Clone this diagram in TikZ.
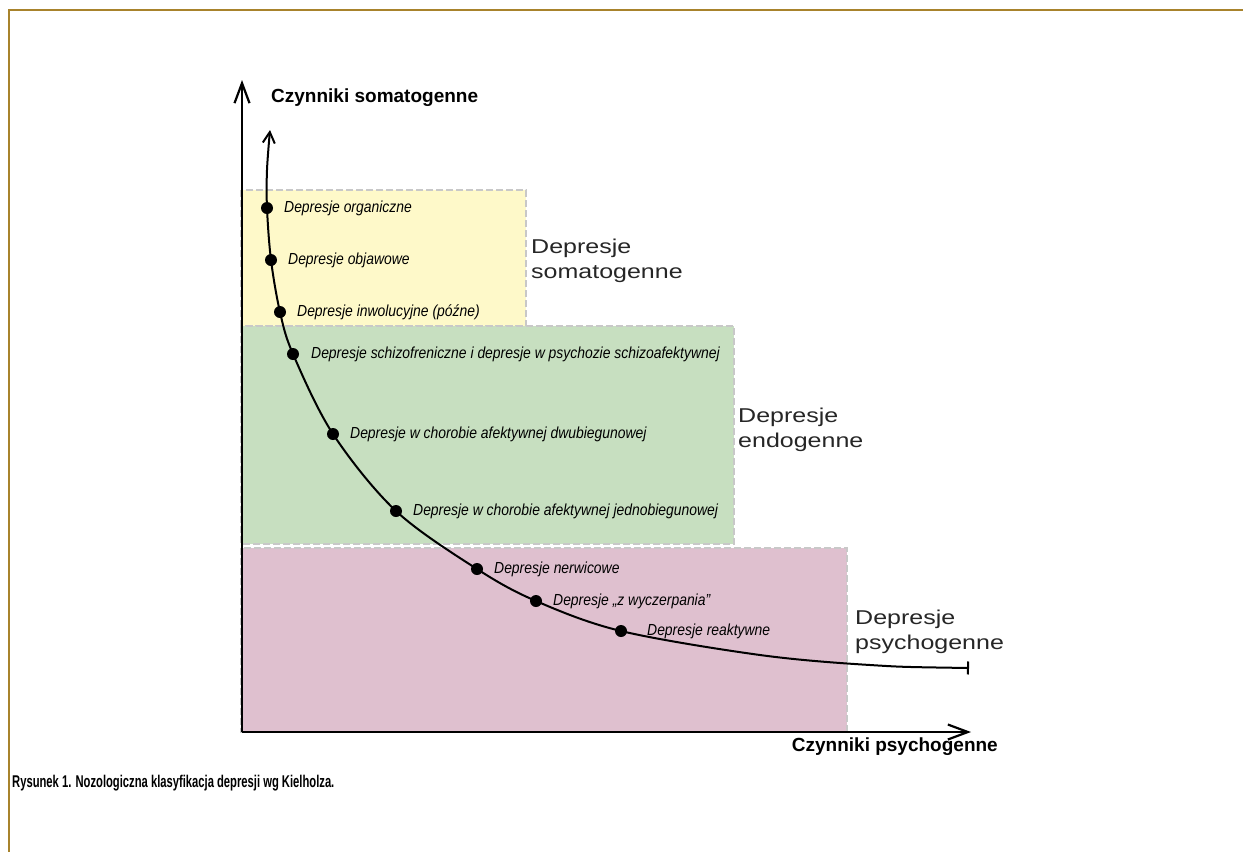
\documentclass[tikz,border=0pt]{standalone}
\usepackage{fontspec}
\setmainfont{Liberation Sans}
\newfontfamily\itemfont[FakeStretch=0.87]{Liberation Sans}
\newfontfamily\groupfont[FakeStretch=1.25]{Liberation Sans}
\newfontfamily\capfont[FakeStretch=0.66]{Liberation Sans}
\usepackage{xcolor}
\usetikzlibrary{positioning,arrows.meta}

\definecolor{framegold}{HTML}{A8832C}
\definecolor{somayellow}{HTML}{FEF9C9}
\definecolor{endogreen}{HTML}{C7DFC0}
\definecolor{psychopink}{HTML}{DFC0CF}
\definecolor{boxdash}{HTML}{C8C8C8}

\begin{document}
\begin{tikzpicture}[
	%	style def
	x=1pt, y=-1pt,
	frame line/.style={framegold, line width=1.5pt},
	group box/.style={draw=boxdash, line width=2pt, dash pattern=on 7pt off 3pt},
	axis line/.style={line width=2.4pt, -{Straight Barb[length=20pt,width=15pt,line width=2.2pt]}},
	curve line/.style={line width=2pt, {Bar[width=13pt,line width=2pt]}-{Straight Barb[length=11pt,width=12pt,line width=2pt]}},
	axis label/.style={font=\bfseries\fontsize{19}{22}\selectfont, inner sep=0pt},
	group label/.style={font=\groupfont\fontsize{20}{25}\selectfont, color=black!85, align=left, anchor=west, inner sep=0pt},
	item/.style={font=\itemfont\itshape\fontsize{16}{19}\selectfont, inner sep=0pt, anchor=west},
	every node/.style={color=black}
	]

	\useasboundingbox (0,0) rectangle (1243,852);

	% page frame
	\draw[frame line] (1243,10) -- (9,10) -- (9,852);

	% coloured groups
	\filldraw[group box, fill=somayellow] (241,190) rectangle (526,326);
	\filldraw[group box, fill=endogreen] (241,326) rectangle (734,544);
	\filldraw[group box, fill=psychopink] (241,548) rectangle (847,732);

	% axes
	\coordinate (O) at (242,732);
	\coordinate (ytop) at (242,80);
	\coordinate (xend) at (971,732);
	\draw[axis line] (O) -- (ytop);
	\draw[axis line] (O) -- (xend);
	\node[axis label, anchor=west] (ylab) at (271,98) {Czynniki somatogenne};
	\node[axis label, anchor=east] (xlab) at (998,747) {Czynniki psychogenne};

	% points on the curve
	\coordinate (p1) at (267,208);
	\coordinate (p2) at (271,260);
	\coordinate (p3) at (280,312);
	\coordinate (p4) at (293,354);
	\coordinate (p5) at (333,434);
	\coordinate (p6) at (396,511);
	\coordinate (p7) at (477,569);
	\coordinate (p8) at (536,601);
	\coordinate (p9) at (621,631);
	\coordinate (ctop) at (270,130);
	\coordinate (cend) at (969,668);

	% the curve itself
	\draw[curve line] plot[smooth, tension=0.55] coordinates {(cend) (870,665) (760,655) (p9) (p8) (p7) (p6) (p5) (p4) (p3) (p2) (p1) (267,170) (ctop)};
	\fill[black]
		(p1) circle (6pt)
		(p2) circle (6pt)
		(p3) circle (6pt)
		(p4) circle (6pt)
		(p5) circle (6pt)
		(p6) circle (6pt)
		(p7) circle (6pt)
		(p8) circle (6pt)
		(p9) circle (6pt);

	% kinds of depression
	\node[item, right=17pt of p1] (l1) {Depresje organiczne};
	\node[item, right=17pt of p2] (l2) {Depresje objawowe};
	\node[item, right=17pt of p3] (l3) {Depresje inwolucyjne (późne)};
	\node[item, right=18pt of p4] (l4) {Depresje schizofreniczne i depresje w psychozie schizoafektywnej};
	\node[item, right=17pt of p5] (l5) {Depresje w chorobie afektywnej dwubiegunowej};
	\node[item, right=17pt of p6] (l6) {Depresje w chorobie afektywnej jednobiegunowej};
	\node[item, right=17pt of p7] (l7) {Depresje nerwicowe};
	\node[item, right=17pt of p8] (l8) {Depresje „z wyczerpania”};
	\node[item, right=26pt of p9] (l9) {Depresje reaktywne};

	% group names
	\node[group label] (gsoma) at (531,261) {Depresje\\somatogenne};
	\node[group label] (gendo) at (738,430) {Depresje\\endogenne};
	\node[group label] (gpsych) at (855,632) {Depresje\\psychogenne};

	% caption
	\node[font=\capfont\bfseries\fontsize{17}{20}\selectfont, anchor=west, inner sep=0pt] (caption) at (12,783) {Rysunek 1. Nozologiczna klasyfikacja depresji wg Kielholza.};

\end{tikzpicture}
\end{document}
